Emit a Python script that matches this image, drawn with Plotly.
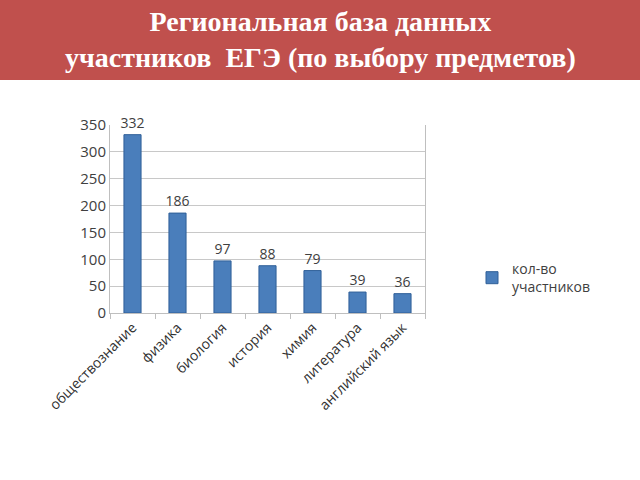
import plotly.graph_objects as go

categories = ["обществознание", "физика", "биология", "история", "химия", "литература", "английский язык"]
values = [332, 186, 97, 88, 79, 39, 36]
series_name = "кол-во<br>участников"
y_ticks = [0, 50, 100, 150, 200, 250, 300, 350]

L, R, T, B = 110, 215, 125, 167
W, H = 640, 480
pw, ph = W - L - R, H - T - B

def px_to_paper_y(py):
    return (H - B - py) / ph

def px_to_paper_x(px):
    return (px - L) / pw

fig = go.Figure()
fig.add_trace(go.Bar(
    x=categories, y=values, name=series_name,
    marker=dict(color="#4A7EBB", line=dict(color="#2F5F98", width=1)),
    text=[str(v) for v in values], textposition="outside", cliponaxis=False,
    constraintext="none",
    textfont=dict(family="Open Sans", size=14, color="#404040"),
    showlegend=True,
))

fig.update_layout(
    width=W, height=H,
    margin=dict(l=L, r=R, t=T, b=B),
    paper_bgcolor="white", plot_bgcolor="white",
    bargap=0.62,
    showlegend=True,
    legend=dict(x=px_to_paper_x(472), y=px_to_paper_y(253), xanchor="left", yanchor="top",
                font=dict(family="Open Sans", size=14, color="#404040"),
                bgcolor="rgba(0,0,0,0)"),
    shapes=[dict(type="rect", xref="paper", yref="paper",
                 x0=px_to_paper_x(0), x1=px_to_paper_x(640),
                 y0=px_to_paper_y(80), y1=px_to_paper_y(0),
                 fillcolor="#C0504D", line=dict(width=0), layer="below")],
    annotations=[dict(text="<b>Региональная база данных</b><br><b>участников  ЕГЭ (по выбору предметов)</b>",
                      xref="paper", yref="paper", x=px_to_paper_x(320), y=px_to_paper_y(39),
                      xanchor="center", yanchor="middle", showarrow=False,
                      font=dict(family="Liberation Serif", size=28, color="white"))],
)

fig.update_yaxes(range=[0, 350], tickvals=y_ticks, showgrid=True, gridcolor="#C8C8C8",
                 showline=True, linecolor="#BFBFBF", mirror=True, zeroline=False,
                 tickfont=dict(family="Open Sans", size=15, color="#404040"), ticks="")
fig.update_xaxes(showline=True, linecolor="#BFBFBF", ticks="outside", tickson="boundaries",
                 ticklen=5, tickcolor="#BFBFBF", tickangle=-45,
                 tickfont=dict(family="Open Sans", size=14, color="#303030"))

fig.write_html("out.html")
